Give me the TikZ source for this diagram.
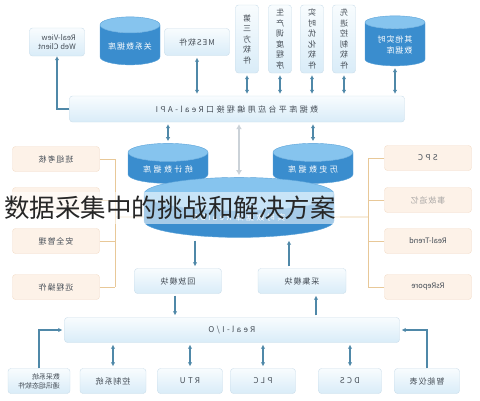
\documentclass[tikz,border=0pt]{standalone}
\usepackage{fontspec}
\setmainfont{Noto Sans CJK SC}
\newfontfamily\spf[LetterSpace=12]{Noto Sans CJK SC}
\newfontfamily\wide[LetterSpace=30]{Noto Sans CJK SC}
\usetikzlibrary{arrows.meta,positioning,shapes.geometric}
\definecolor{Ink}{HTML}{454D56}
\definecolor{Steel}{HTML}{4F88A8}
\definecolor{BoxLine}{HTML}{CADDEA}
\definecolor{BoxTop}{HTML}{F8FCFE}
\definecolor{BoxBot}{HTML}{D9ECF8}
\definecolor{DbSide}{HTML}{3A8DCE}
\definecolor{DbTop}{HTML}{86C4EE}
\definecolor{DbLine}{HTML}{5AA2D8}
\definecolor{PeachLine}{HTML}{F2DCC8}
\definecolor{PeachFill}{HTML}{FDF2E8}
\definecolor{Wire}{HTML}{E8C898}
\definecolor{PaleGr}{HTML}{CBD2D8}
% mirrored text, as the source picture prints it
\newcommand\mir[1]{\reflectbox{#1}}
\newcommand\bxfont{\spf\fontsize{8}{10.5}\selectfont}
\tikzset{
  >=Latex,
  bbox/.style={rounded corners=3pt,draw=BoxLine,top color=BoxTop,bottom color=BoxBot,text=Ink,font=\bxfont,inner sep=1pt},
  vbox/.style={bbox,minimum width=23,minimum height=68,align=center},
  pbox/.style={rounded corners=3pt,draw=PeachLine,fill=PeachFill,text=Ink,font=\bxfont,inner sep=1pt,minimum width=87,minimum height=25},
  bot/.style={bbox,minimum height=25},
  db/.style={cylinder,shape border rotate=90,aspect=0.35,draw=DbLine,cylinder uses custom fill,
    cylinder body fill=DbSide,cylinder end fill=DbTop,text=white,font=\bxfont,inner sep=1pt},
  dbl/.style={{Latex[length=4pt,width=4.5pt]}-{Latex[length=4pt,width=4.5pt]},draw=Steel,line width=1.4pt,shorten >=2pt,shorten <=2pt},
  one/.style={-{Latex[length=4pt,width=4.5pt]},draw=Steel,line width=1.4pt},
  pale/.style={{Latex[length=5pt,width=6pt]}-{Latex[length=5pt,width=6pt]},draw=PaleGr,line width=2.2pt,shorten >=2pt,shorten <=2pt},
  link/.style={draw=Wire,line width=.8pt},
  band/.style={fill=white,fill opacity=.55,text opacity=1,minimum width=340,minimum height=32,inner sep=0pt,
    font=\fontsize{25.5}{28}\selectfont,text=black!85}
}
\begin{document}
\begin{tikzpicture}[x=1pt,y=-1pt]
  \useasboundingbox (0,0) rectangle (480,400);
  % top row
  \node[bbox,minimum width=55,minimum height=28,align=right,font=\fontsize{7.5}{9.5}\selectfont] (web) at (57,42) {\mir{Real-View}\\\mir{Web Client}};
  \node[db,minimum width=60,minimum height=48] (gx) at (130,46) {\mir{关系数据库}};
  \node[bbox,minimum width=65,minimum height=27] (mes) at (197,42) {\mir{MES软件}};
  \node[vbox] (sf) at (247,39) {\mir{第}\\\mir{三}\\\mir{方}\\\mir{软}\\\mir{件}};
  \node[vbox] (dd) at (280,39) {\mir{生}\\\mir{产}\\\mir{调}\\\mir{度}\\\mir{程}\\\mir{序}};
  \node[vbox] (yh) at (312,39) {\mir{实}\\\mir{时}\\\mir{优}\\\mir{化}\\\mir{软}\\\mir{件}};
  \node[vbox] (kz) at (344,39) {\mir{先}\\\mir{进}\\\mir{控}\\\mir{制}\\\mir{软}\\\mir{件}};
  \node[db,minimum width=60,minimum height=50,align=right] (qt) at (395,45) {\mir{其他实时}\\\mir{数据库}};
  % api bar
  \node[bbox,minimum width=335,minimum height=26,font=\wide\fontsize{8}{10}\selectfont] (api) at (237,109) {\mir{数据库平台应用编程接口Real-API}};
  \draw[one] (api.west) -| (web.south);
  \foreach \n in {mes,sf,dd,yh,kz,qt}
    \draw[dbl] (\n.south) -- (\n.south |- api.north);
  % databases
  \node[db,minimum width=80,minimum height=40,font=\wide\fontsize{8}{10}\selectfont] (tj) at (168,169) {\mir{统计数据库}};
  \node[db,minimum width=80,minimum height=40,font=\wide\fontsize{8}{10}\selectfont] (ls) at (313,169) {\mir{历史数据库}};
  \node[db,minimum width=190,minimum height=60,font=\wide\fontsize{8}{10}\selectfont] (rdb) at (239,217) {\mir{实时数据库 RealDB}};
  \draw[dbl] (tj.north |- api.south) -- (tj.north);
  \draw[dbl] (ls.north |- api.south) -- (ls.north);
  \draw[pale] (rdb.north |- api.south) -- (rdb.north);
  % side columns
  \node[pbox] (bz) at (56,159) {\mir{班组考核}};
  \node[pbox] (sb) at (56,200) {};
  \node[pbox] (aq) at (56,241) {\mir{安全管理}};
  \node[pbox] (yc) at (56,287) {\mir{远程操作}};
  \node[pbox,font=\wide\fontsize{8}{10}\selectfont] (spc) at (428,158) {\mir{SPC}};
  \node[pbox,text opacity=.45] (sg) at (428,200) {\mir{事故追忆}};
  \node[pbox,font=\fontsize{7.5}{9}\selectfont] (rt) at (428,241) {\mir{Real-Trend}};
  \node[pbox,font=\fontsize{7.5}{9}\selectfont] (rs) at (428,287) {\mir{RsRepore}};
  \coordinate (lbus) at (115,217);
  \coordinate (rbus) at (368,217);
  \draw[link] (lbus |- bz.east) -- (lbus |- yc.east);
  \draw[link] (rbus |- spc.west) -- (rbus |- rs.west);
  \foreach \n in {bz,sb,aq,yc}
    \draw[link] (\n.east) -- (\n.east -| lbus);
  \foreach \n in {spc,sg,rt,rs}
    \draw[link] (\n.west) -- (\n.west -| rbus);
  \draw[link] (rdb.west) -- (lbus);
  \draw[link] (rdb.east) -- (rbus);
  % modules
  \node[bbox,minimum width=87,minimum height=25] (hf) at (178,281) {\mir{回放模块}};
  \node[bbox,minimum width=88,minimum height=25] (cj) at (302,281) {\mir{采集模块}};
  \node[bbox,minimum width=335,minimum height=25,font=\wide\fontsize{8}{10}\selectfont] (io) at (232,330) {\mir{Real-I/O}};
  \coordinate (hfa) at ([xshift=17pt]hf.north);
  \coordinate (cja) at ([xshift=-13pt]cj.north);
  \coordinate (hfb) at ([xshift=-3pt]hf.south);
  \coordinate (cjb) at ([xshift=14pt]cj.south);
  \draw[one,shorten <=3pt,shorten >=2pt] (hfa |- rdb.south) -- (hfa);
  \draw[one,shorten <=2pt,shorten >=3pt] (cja) -- (cja |- rdb.south);
  \draw[one,shorten <=2pt,shorten >=2pt] (hfb) -- (hfb |- io.north);
  \draw[one,shorten <=2pt,shorten >=2pt] (cjb |- io.north) -- (cjb);
  % field devices
  \node[bot,minimum width=62,align=right,font=\fontsize{7}{9}\selectfont] (ds) at (39,381) {\mir{数采系统}\\\mir{通讯组态软件}};
  \node[bot,minimum width=66] (ctl) at (113,381) {\mir{控制系统}};
  \node[bot,minimum width=65,font=\wide\fontsize{8}{10}\selectfont] (rtu) at (190,381) {\mir{RTU}};
  \node[bot,minimum width=65,font=\wide\fontsize{8}{10}\selectfont] (plc) at (263,381) {\mir{PLC}};
  \node[bot,minimum width=63,font=\wide\fontsize{8}{10}\selectfont] (dcs) at (350,381) {\mir{DCS}};
  \node[bot,minimum width=65] (zn) at (427,381) {\mir{智能仪表}};
  \foreach \n in {ctl,rtu,plc,dcs}
    \draw[dbl] (\n.north) -- (\n.north |- io.south);
  \draw[one,shorten >=2pt] (ds.north) |- (io.west);
  \draw[one,shorten >=2pt] (zn.north) |- (io.east);
  % overlaid title
  \node[band] (ttl) at (170,208) {数据采集中的挑战和解决方案};
\end{tikzpicture}
\end{document}
